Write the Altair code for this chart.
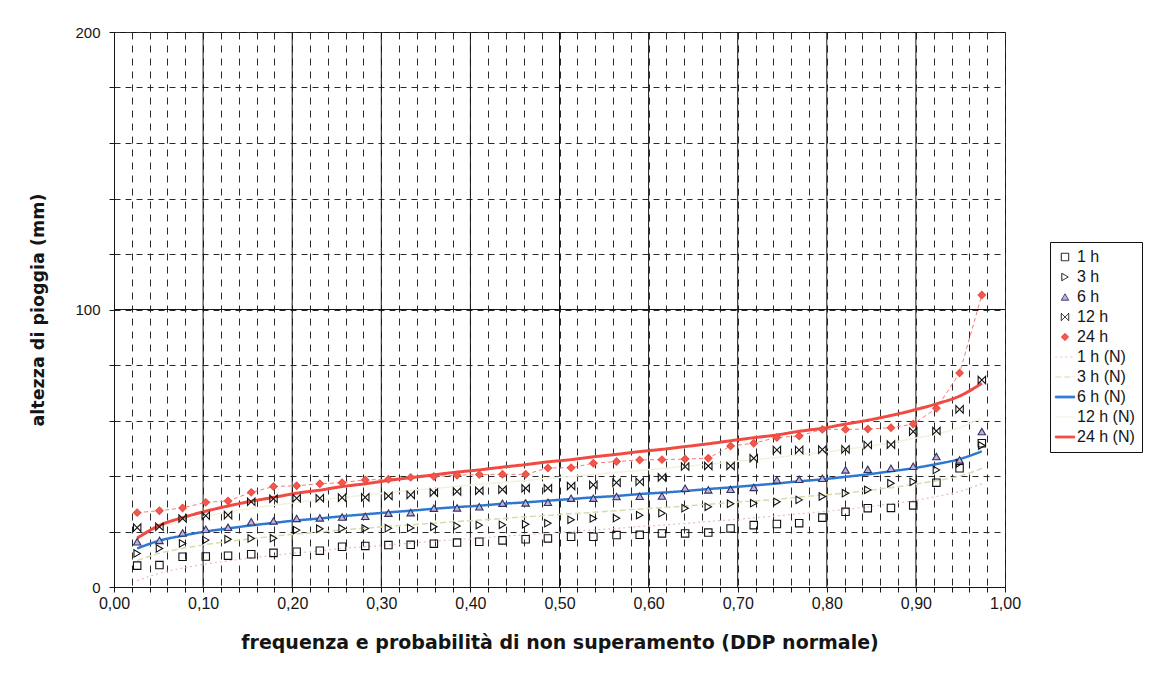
import altair as alt
import pandas as pd

# plotting positions (frequency of non-exceedance)
freq = [0.026, 0.051, 0.077, 0.103, 0.128, 0.154, 0.179, 0.205, 0.231, 0.256,
        0.282, 0.308, 0.333, 0.359, 0.385, 0.410, 0.436, 0.462, 0.487, 0.513,
        0.538, 0.564, 0.590, 0.615, 0.641, 0.667, 0.692, 0.718, 0.744, 0.769,
        0.795, 0.821, 0.846, 0.872, 0.897, 0.923, 0.949, 0.974]

# observed rainfall depths (mm)
h1 = [7.7, 7.9, 10.9, 11.0, 11.3, 11.8, 12.3, 12.7, 13.1, 14.5,
      14.8, 15.1, 15.2, 15.6, 16.0, 16.3, 16.8, 17.2, 17.5, 18.1,
      18.1, 18.7, 18.8, 19.3, 19.3, 19.6, 21.1, 22.3, 22.7, 23.0,
      25.0, 27.1, 28.4, 28.5, 29.4, 37.6, 42.8, 51.8]
h3 = [12.1, 13.9, 15.7, 16.9, 17.2, 17.5, 17.6, 20.5, 21.0, 21.1,
      21.1, 21.2, 21.3, 21.7, 22.0, 22.3, 22.4, 22.6, 23.0, 24.2,
      24.7, 24.8, 25.9, 26.6, 28.4, 28.9, 30.0, 30.2, 30.7, 31.4,
      32.6, 33.8, 35.0, 37.4, 37.9, 42.2, 44.6, 51.0]
h6 = [16.3, 16.8, 19.5, 20.8, 21.5, 23.5, 23.8, 24.7, 24.9, 25.2,
      25.5, 26.6, 26.8, 28.4, 28.5, 28.9, 30.2, 30.3, 30.5, 32.0,
      32.0, 32.6, 32.7, 32.8, 35.6, 35.0, 35.2, 35.9, 38.6, 38.8,
      39.2, 42.2, 42.4, 42.8, 43.5, 47.0, 45.8, 56.0]
h12 = [21.4, 21.7, 24.7, 25.7, 25.9, 30.7, 31.8, 32.0, 32.0, 32.2,
       32.3, 32.8, 33.2, 34.0, 34.4, 34.7, 35.1, 35.6, 35.6, 36.4,
       36.8, 37.6, 37.9, 39.5, 43.4, 43.6, 43.6, 46.4, 49.4, 49.4,
       49.5, 49.6, 51.2, 51.3, 56.0, 56.2, 64.0, 74.6]
h24 = [26.8, 27.5, 28.5, 30.5, 31.0, 34.1, 36.2, 36.5, 37.2, 37.6,
       38.6, 38.8, 39.5, 39.8, 40.3, 40.5, 40.6, 40.6, 42.9, 43.0,
       44.6, 45.2, 45.8, 45.9, 46.1, 46.4, 50.8, 51.8, 53.9, 54.4,
       56.8, 56.8, 56.9, 57.4, 58.7, 64.4, 77.1, 105.2]

# fitted normal curves (mm)
n1 = [2.2, 5.0, 6.8, 8.3, 9.4, 10.5, 11.4, 12.3, 13.0, 13.9,
      14.5, 15.2, 15.8, 16.5, 17.1, 17.6, 18.3, 18.8, 19.4, 20.0,
      20.6, 21.1, 21.8, 22.3, 22.9, 23.6, 24.2, 24.9, 25.6, 26.4,
      27.1, 28.0, 28.9, 30.0, 31.1, 32.6, 34.4, 37.2]
n3 = [9.5, 12.2, 13.9, 15.3, 16.4, 17.4, 18.3, 19.1, 19.8, 20.6,
      21.2, 21.9, 22.4, 23.0, 23.6, 24.1, 24.7, 25.3, 25.8, 26.4,
      26.9, 27.5, 28.1, 28.6, 29.2, 29.8, 30.4, 31.0, 31.6, 32.4,
      33.1, 33.9, 34.8, 35.8, 36.9, 38.3, 40.0, 42.7]
n6 = [13.9, 16.7, 18.5, 20.0, 21.1, 22.2, 23.1, 24.0, 24.7, 25.5,
      26.2, 26.9, 27.5, 28.2, 28.8, 29.3, 30.0, 30.5, 31.1, 31.7,
      32.3, 32.8, 33.5, 34.0, 34.6, 35.3, 35.9, 36.6, 37.3, 38.1,
      38.8, 39.7, 40.6, 41.7, 42.8, 44.3, 46.1, 48.9]
n12 = [18.1, 21.6, 23.8, 25.5, 27.0, 28.3, 29.4, 30.5, 31.4, 32.3,
       33.1, 34.0, 34.8, 35.5, 36.3, 37.0, 37.7, 38.4, 39.2, 39.8,
       40.6, 41.3, 42.0, 42.7, 43.5, 44.2, 45.0, 45.9, 46.7, 47.6,
       48.5, 49.6, 50.7, 52.0, 53.5, 55.2, 57.4, 61.0]
n24 = [17.6, 22.2, 25.0, 27.3, 29.2, 30.9, 32.3, 33.8, 34.9, 36.2,
       37.2, 38.4, 39.4, 40.4, 41.4, 42.2, 43.2, 44.1, 45.1, 45.9,
       46.9, 47.8, 48.8, 49.6, 50.6, 51.6, 52.7, 53.8, 54.8, 56.1,
       57.2, 58.7, 60.1, 61.8, 63.7, 66.0, 68.8, 73.4]

obs_names = ["1 h", "3 h", "6 h", "12 h", "24 h"]
fit_names = ["1 h (N)", "3 h (N)", "6 h (N)", "12 h (N)", "24 h (N)"]
fit_widths = [1.2, 1.5, 2.5, 1.5, 3.0]
SERIES = obs_names + fit_names

x_ticks = [round(i * 0.02, 2) for i in range(51)]
x_major = [0.1, 0.2, 0.3, 0.4, 0.5, 0.6, 0.7, 0.8, 0.9]
y_ticks = [0, 20, 40, 60, 80, 100, 120, 140, 160, 180, 200]
y_major = [100]

rows = []
for name, vals in zip(obs_names, [h1, h3, h6, h12, h24]):
    for p, v in zip(freq, vals):
        rows.append({"p": p, "val": v, "serie": name})
obs = pd.DataFrame(rows)

rows = []
for name, w, vals in zip(fit_names, fit_widths, [n1, n3, n6, n12, n24]):
    for p, v in zip(freq, vals):
        rows.append({"p": p, "val": v, "serie": name, "w": w})
fit = pd.DataFrame(rows)

FONT = "Liberation Sans"
TFONT = "DejaVu Sans"
INK = "#151515"

THIN = "M-2.6,0L2.6,0"
THICK = "M-2.6,-0.25L2.6,-0.25L2.6,0.25L-2.6,0.25Z"
shapes = ["square", "triangle-right", "triangle-up", "M-1,-1L-1,1L1,-1L1,1Z", "diamond",
          THIN, THIN, THICK, THIN, THICK]
strokes = ["#111111", "#111111", "#33335f", "#111111", "#ef4b42",
           "#ebbcc4", "#d8dbab", "#2f78d2", "#f3f1e0", "#f04a42"]
fills = ["transparent", "transparent", "#b8b4e6", "transparent", "#f05a4e",
         "transparent", "transparent", "#2f78d2", "transparent", "#f04a42"]
dashes = [[1, 0], [1, 0], [1, 0], [1, 0], [1, 0],
          [2, 3], [6, 3], [1, 0], [1, 0], [1, 0]]

leg = alt.Legend(title=None, orient="none", legendX=936, legendY=210,
                 strokeColor="#111111", fillColor="white", padding=7,
                 labelFont=FONT, labelFontSize=16, labelColor=INK,
                 labelOffset=4, rowPadding=4, labelLimit=200,
                 symbolSize=55, symbolStrokeWidth=1)

xs = alt.Scale(domain=[0, 1], nice=False, zero=False)
ys = alt.Scale(domain=[0, 200], nice=False, zero=True)

xaxis = alt.Axis(values=x_ticks,
                 labelExpr="abs(datum.value*10 - round(datum.value*10)) < 0.001 ? replace(format(datum.value, '.2f'), '.', ',') : ''",
                 grid=True, gridColor="#2a2a2a", gridDash=[7, 6], gridWidth=1,
                 tickColor=INK, tickSize=5, domainColor=INK,
                 labelFont=FONT, labelFontSize=16, labelColor=INK, labelPadding=3,
                 labelOverlap=False, labelFlush=False,
                 titleFont=TFONT, titleFontSize=19, titleFontWeight="bold",
                 titleColor=INK, titlePadding=22)
yaxis = alt.Axis(values=y_ticks,
                 labelExpr="datum.value % 100 === 0 ? datum.label : ''",
                 grid=True, gridColor="#2a2a2a", gridDash=[6, 5], gridWidth=1,
                 tickColor=INK, tickSize=5, domainColor=INK,
                 labelFont=FONT, labelFontSize=15, labelColor=INK, labelPadding=9,
                 labelOverlap=False,
                 titleFont=TFONT, titleFontSize=17.5, titleFontWeight="bold",
                 titleColor=INK, titlePadding=27)

XT = "frequenza e probabilità di non superamento (DDP normale)"
YT = "altezza di pioggia (mm)"


def X(field="p"):
    return alt.X(f"{field}:Q", scale=xs, axis=xaxis, title=XT)


def Y(field="val"):
    return alt.Y(f"{field}:Q", scale=ys, axis=yaxis, title=YT)


color = alt.Color("serie:N", scale=alt.Scale(domain=SERIES, range=strokes), legend=leg)
shape = alt.Shape("serie:N", scale=alt.Scale(domain=SERIES, range=shapes), legend=leg)
fill = alt.Fill("serie:N", scale=alt.Scale(domain=SERIES, range=fills), legend=leg)
dash = alt.StrokeDash("serie:N", scale=alt.Scale(domain=SERIES, range=dashes), legend=leg)

vmajor = alt.Chart(pd.DataFrame({"p": x_major})).mark_rule(
    color=INK, strokeWidth=1).encode(x=X())
hmajor = alt.Chart(pd.DataFrame({"val": y_major})).mark_rule(
    color=INK, strokeWidth=1).encode(y=Y())

lines = alt.Chart(fit).mark_line(interpolate="monotone").encode(
    x=X(), y=Y(), color=color, strokeDash=dash,
    strokeWidth=alt.StrokeWidth("w:Q", scale=None, legend=None),
    order="p:Q")

link24 = alt.Chart(obs[obs["serie"] == "24 h"]).mark_line(
    color="#f27c7c", strokeWidth=1, strokeDash=[4, 3]).encode(
    x=X(), y=Y(), order="p:Q")

points = alt.Chart(obs).mark_point(filled=False, opacity=1, size=55, strokeWidth=1.1).encode(
    x=X(), y=Y(), color=color, shape=shape, fill=fill)

chart = alt.layer(vmajor, hmajor, link24, lines, points).properties(
    width=891, height=555,
    autosize=alt.AutoSizeParams(type="none"),
    padding={"left": 114, "top": 32, "right": 160, "bottom": 97},
    background="white",
).configure_view(stroke=INK, strokeWidth=1)

chart.save("out.html", embed_options={"renderer": "svg", "actions": False})
